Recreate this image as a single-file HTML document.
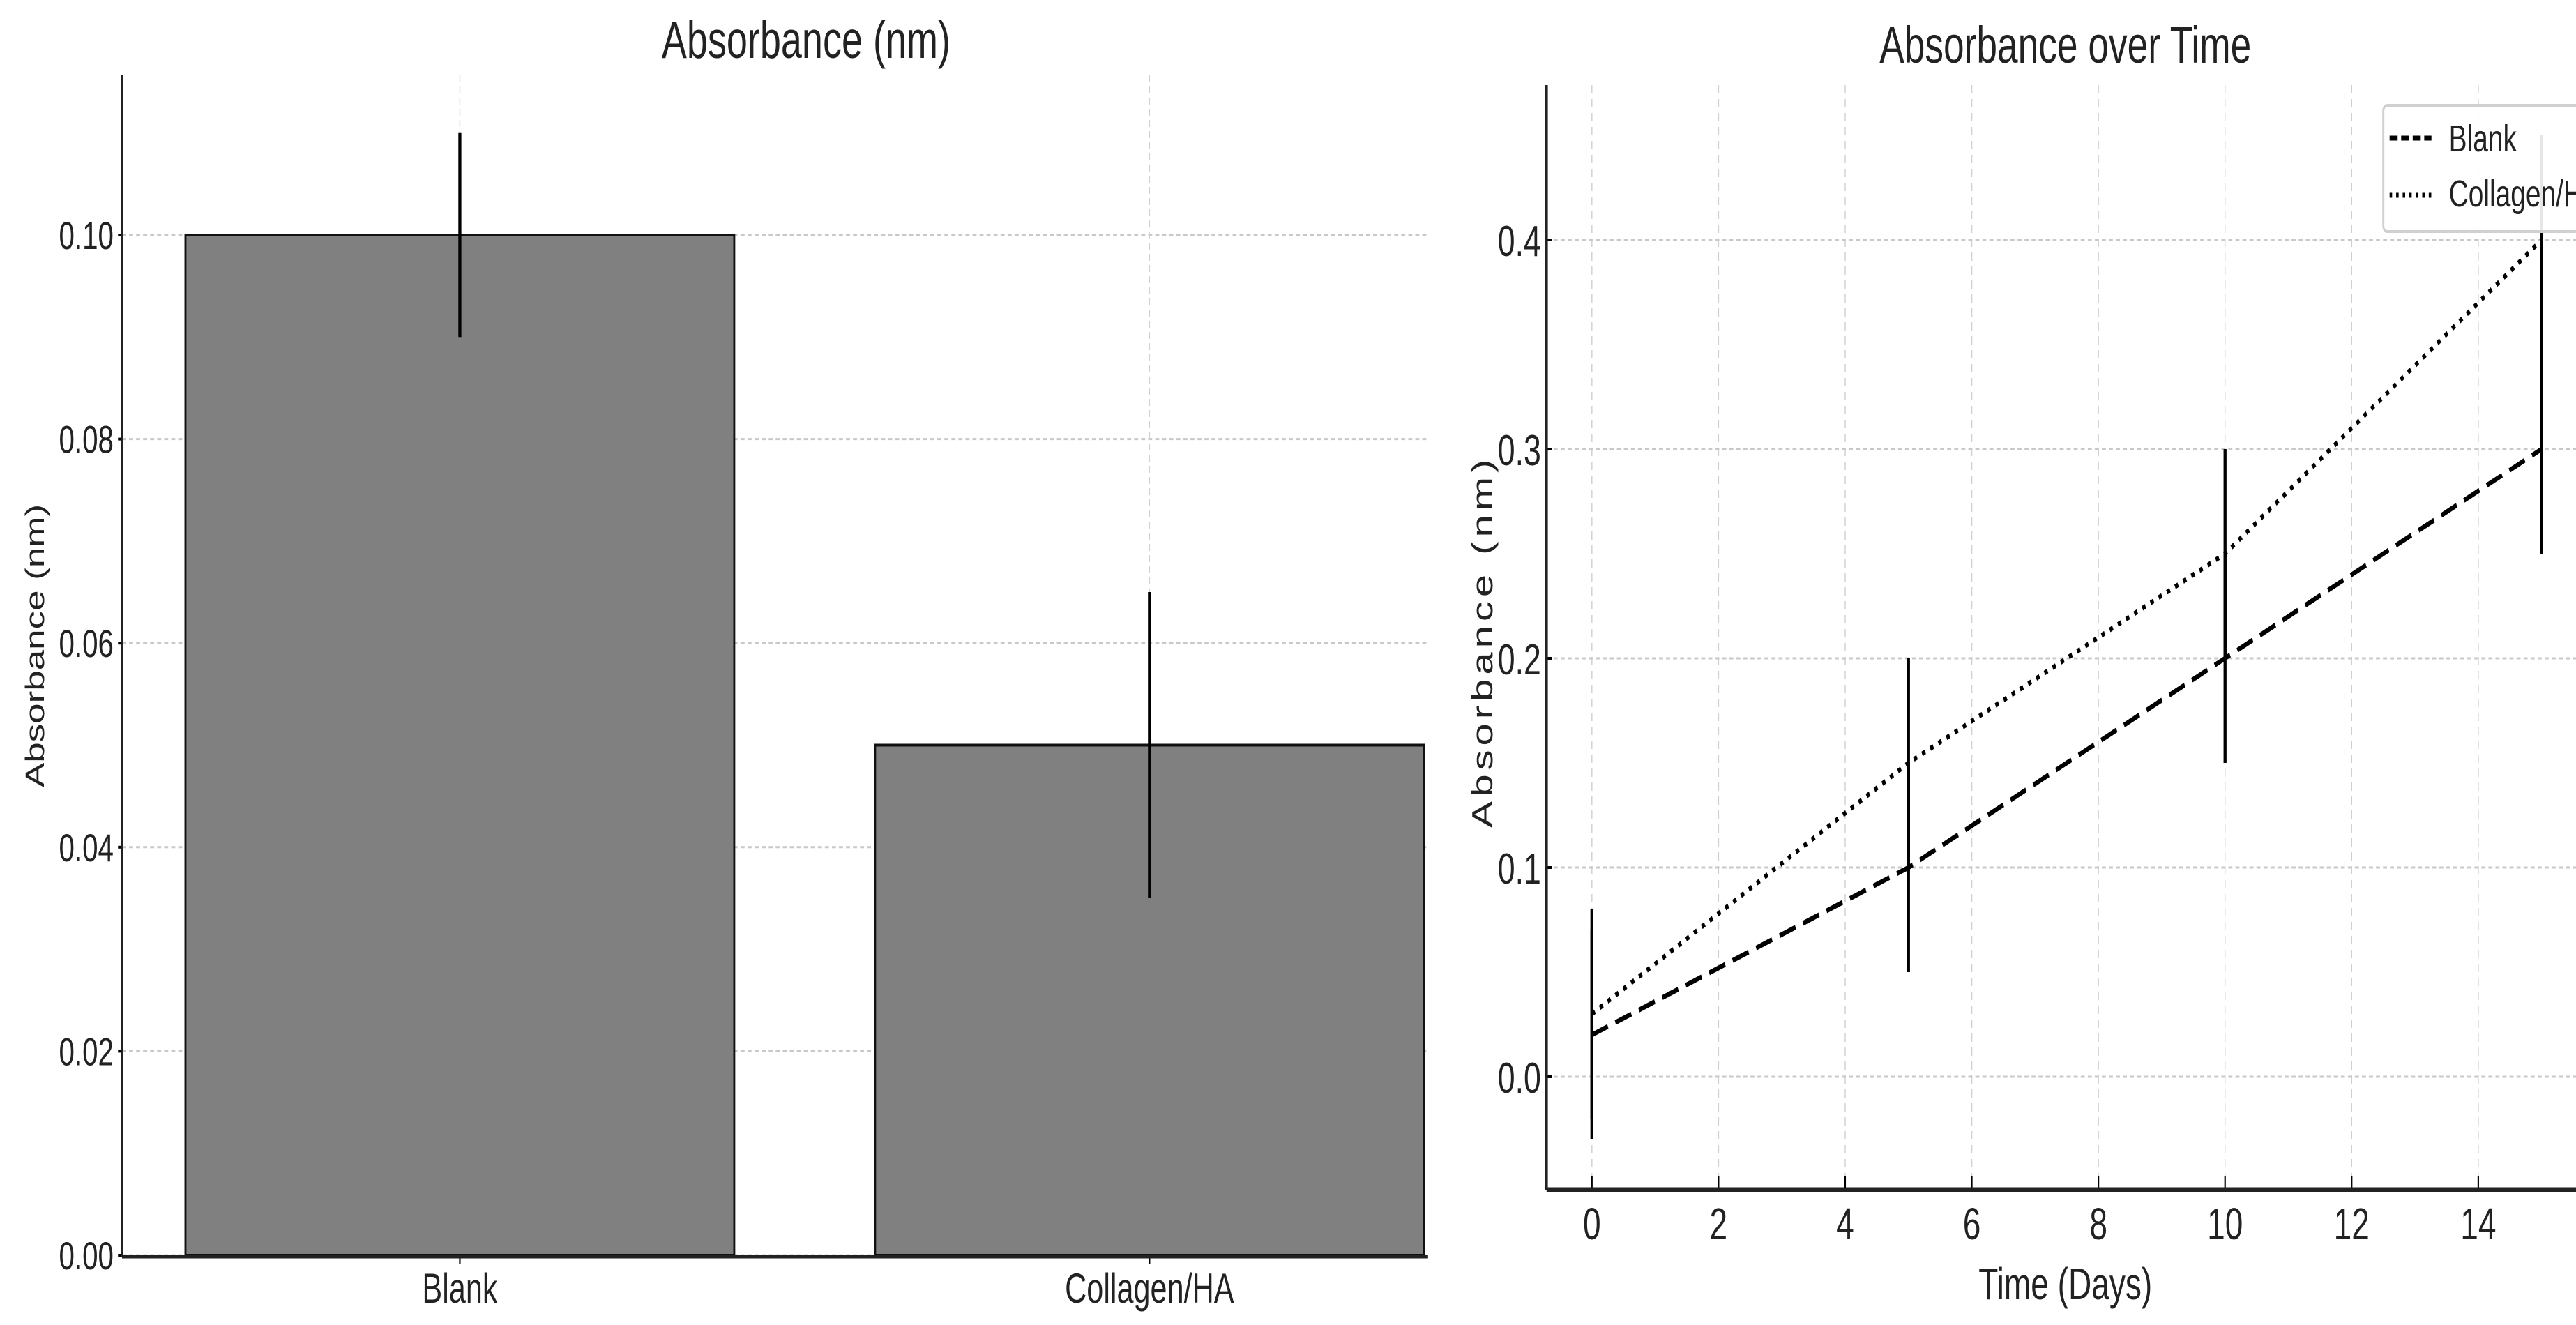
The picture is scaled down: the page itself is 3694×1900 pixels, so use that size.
<!DOCTYPE html>
<html><head><meta charset="utf-8"><style>html,body{margin:0;padding:0;background:#fff;}svg{display:block;}</style></head>
<body>
<svg id="fig" xmlns="http://www.w3.org/2000/svg" width="3694" height="1900" viewBox="0 0 5131 1900" preserveAspectRatio="none" font-family="'Liberation Sans', sans-serif">
<rect x="0" y="0" width="5131" height="1900" fill="#fff"/>
<g id="left"></g>
<g id="right"></g>
</svg>
<script>
const barCategories = ["Blank", "Collagen/HA"];
const barValues = [0.10, 0.05];
const barErrors = [0.01, 0.015];
const barTicks = [0.00, 0.02, 0.04, 0.06, 0.08, 0.10];
const barTickLabels = ["0.00", "0.02", "0.04", "0.06", "0.08", "0.10"];

const days = [0, 5, 10, 15];
const blankSeries = [0.02, 0.10, 0.20, 0.30];
const collagenSeries = [0.03, 0.15, 0.25, 0.40];
const blankErr = [0.05, 0.05, 0.05, 0.05];
const collagenErr = [0.05, 0.05, 0.05, 0.05];
const lineYTicks = [0.0, 0.1, 0.2, 0.3, 0.4];
const lineYTickLabels = ["0.0", "0.1", "0.2", "0.3", "0.4"];
const lineXTicks = [0, 2, 4, 6, 8, 10, 12, 14];
const lineXTickLabels = ["0", "2", "4", "6", "8", "10", "12", "14"];

const NS = "http://www.w3.org/2000/svg";
const K = 0.72;
function mk(parent, tag, attrs, text) {
  const e = document.createElementNS(NS, tag);
  for (const k in attrs) e.setAttribute(k, attrs[k]);
  if (text !== undefined) e.textContent = text;
  parent.appendChild(e);
  return e;
}
const V = x => x / K;

// ---------- Left bar chart ----------
const L = document.getElementById('left');
const lx0 = V(175), lx1 = V(2048), ltop = 108;
const yB = v => 1800 - v * 14630;
const bandStart = V(266), bandStep = V(1255) - V(266), barW = V(1053) - V(266);
const xBar = i => bandStart + i * bandStep;

barTicks.forEach((t, i) => {
  const g = mk(L, 'line', {x1: lx0, x2: lx1, y1: yB(t), y2: yB(t), stroke: '#c8c8c8', 'stroke-width': 3, 'stroke-dasharray': '8 6'});
  
  
  const tk = mk(L, 'line', {x1: lx0 - 8, x2: lx0, y1: yB(t), y2: yB(t), stroke: '#000', 'stroke-width': 4});
  
  
  const lb = mk(L, 'text', {x: V(163), y: yB(t) + 20, 'font-size': 56, 'text-anchor': 'end', fill: '#222'}, barTickLabels[i]);
  
  
});
barCategories.forEach((c, i) => {
  const cx = xBar(i) + barW / 2;
  const vg = mk(L, 'line', {x1: cx, x2: cx, y1: ltop, y2: 1800, stroke: '#d0d0d0', 'stroke-width': 2, 'stroke-dasharray': '10 6'});
  
  
});
barCategories.forEach((c, i) => {
  const r = mk(L, 'rect', {x: xBar(i), y: yB(barValues[i]), width: barW, height: yB(0) - yB(barValues[i]), fill: '#808080', stroke: '#111', 'stroke-width': 4});
  
  
  const cx = xBar(i) + barW / 2;
  const eb = mk(L, 'line', {x1: cx, x2: cx, y1: yB(barValues[i] + barErrors[i]), y2: yB(barValues[i] - barErrors[i]), stroke: '#000', 'stroke-width': 6});
  
  
  const tk = mk(L, 'line', {x1: cx, x2: cx, y1: 1800, y2: 1812, stroke: '#000', 'stroke-width': 3});
  
  
  const lb = mk(L, 'text', {x: cx, y: 1868, 'font-size': 60, 'text-anchor': 'middle', fill: '#222'}, c);
  
  
});
let a = mk(L, 'line', {x1: lx0, x2: lx0, y1: ltop, y2: 1802, stroke: '#222', 'stroke-width': 5});


a = mk(L, 'line', {x1: lx0, x2: lx1, y1: 1802, y2: 1802, stroke: '#222', 'stroke-width': 5});


a = mk(L, 'text', {x: V(1156), y: 83, 'font-size': 75, 'text-anchor': 'middle', fill: '#222'}, 'Absorbance (nm)');


a = mk(L, 'text', {transform: 'translate(' + V(63) + ',926) rotate(-90)', 'font-size': 53, 'text-anchor': 'middle', fill: '#222'}, 'Absorbance (nm)');



// ---------- Right line chart ----------
const R = document.getElementById('right');
const rx0 = V(2218), rx1 = 5131, rtop = 122, rbot = 1706;
const xD = d => V(2283 + d * 90.8);
const yL = v => 1544 - v * 3000;

lineXTicks.forEach((t, i) => {
  const g = mk(R, 'line', {x1: xD(t), x2: xD(t), y1: rtop, y2: rbot, stroke: '#d0d0d0', 'stroke-width': 2, 'stroke-dasharray': '12 8'});
  
  
  const tk = mk(R, 'line', {x1: xD(t), x2: xD(t), y1: rbot - 20, y2: rbot, stroke: '#000', 'stroke-width': 3});
  
  
  const lb = mk(R, 'text', {x: xD(t), y: 1777, 'font-size': 64, 'text-anchor': 'middle', fill: '#222'}, lineXTickLabels[i]);
  
  
});
lineYTicks.forEach((t, i) => {
  const g = mk(R, 'line', {x1: rx0, x2: rx1, y1: yL(t), y2: yL(t), stroke: '#c8c8c8', 'stroke-width': 3, 'stroke-dasharray': '8 6'});
  
  
  const tk = mk(R, 'line', {x1: rx0, x2: rx0 + 10, y1: yL(t), y2: yL(t), stroke: '#000', 'stroke-width': 4});
  
  
  const lb = mk(R, 'text', {x: V(2210), y: yL(t) + 23, 'font-size': 62, 'text-anchor': 'end', fill: '#222'}, lineYTickLabels[i]);
  
  
});
function pts(s) { return days.map((d, i) => xD(d) + ',' + yL(s[i])).join(' '); }
let p = mk(R, 'polyline', {points: pts(blankSeries), fill: 'none', stroke: '#000', 'stroke-width': 7, 'stroke-dasharray': '34 16'});


p = mk(R, 'polyline', {points: pts(collagenSeries), fill: 'none', stroke: '#000', 'stroke-width': 7, 'stroke-dasharray': '7 11'});


days.forEach((d, i) => {
  let e = mk(R, 'line', {x1: xD(d), x2: xD(d), y1: yL(blankSeries[i] + blankErr[i]), y2: yL(blankSeries[i] - blankErr[i]), stroke: '#000', 'stroke-width': 6});
  
  
  e = mk(R, 'line', {x1: xD(d), x2: xD(d), y1: yL(collagenSeries[i] + collagenErr[i]), y2: yL(collagenSeries[i] - collagenErr[i]), stroke: '#000', 'stroke-width': 6});
  
  
});
a = mk(R, 'line', {x1: rx0, x2: rx0, y1: rtop, y2: rbot, stroke: '#222', 'stroke-width': 5});


a = mk(R, 'line', {x1: rx0, x2: rx1, y1: rbot, y2: rbot, stroke: '#222', 'stroke-width': 7});


a = mk(R, 'text', {x: V(2962), y: 90, 'font-size': 74, 'text-anchor': 'middle', fill: '#222'}, 'Absorbance over Time');


a = mk(R, 'text', {x: V(2962), y: 1863, 'font-size': 64, 'text-anchor': 'middle', fill: '#222'}, 'Time (Days)');


a = mk(R, 'text', {transform: 'translate(' + V(2140) + ',920) rotate(-90)', 'font-size': 58, 'text-anchor': 'middle', fill: '#222', 'letter-spacing': 6}, 'Absorbance (nm)');



// legend
const lg = mk(R, 'g', {});


let lr = mk(lg, 'rect', {x: V(3418), y: 151, width: 500, height: 181, rx: 8, fill: '#fff', 'fill-opacity': 0.9, stroke: '#d0d0d0', 'stroke-width': 4});


let le = mk(lg, 'line', {x1: V(3427), x2: V(3487), y1: 198, y2: 198, stroke: '#000', 'stroke-width': 7, 'stroke-dasharray': '16 7'});


le = mk(lg, 'text', {x: V(3512), y: 217, 'font-size': 54, fill: '#222'}, 'Blank');


le = mk(lg, 'line', {x1: V(3427), x2: V(3487), y1: 280, y2: 280, stroke: '#000', 'stroke-width': 7, 'stroke-dasharray': '5 8'});


le = mk(lg, 'text', {x: V(3512), y: 296, 'font-size': 54, fill: '#222'}, 'Collagen/HA');


</script>
</body></html>
